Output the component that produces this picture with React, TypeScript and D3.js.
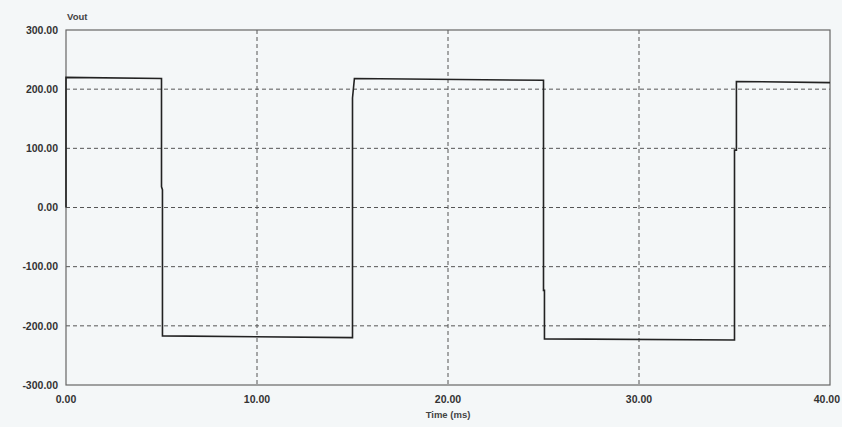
import React from 'react';
import * as d3 from 'd3';

// waveform samples (time in ms, Vout in V)
const timeMs = [0, 0, 5.0, 5.0, 5.05, 5.05, 15.0, 15.0, 15.1, 25.0, 25.0, 25.05, 25.05, 35.0, 35.0, 35.1, 35.1, 40];
const vout = [0, 220, 218, 35, 30, -217, -220, 185, 218, 215, -140, -140, -222, -224, 97, 97, 213, 211];

const yTicks = [300, 200, 100, 0, -100, -200, -300];
const xTicks = [0, 10, 20, 30, 40];
const yGrid = [200, 100, 0, -100, -200];
const xGrid = [10, 20, 30];

const W = 842;
const H = 427;
const margin = { top: 30, right: 12, bottom: 42, left: 66 };

const App = () => {
  const x = d3.scaleLinear().domain([0, 40]).range([margin.left, W - margin.right]);
  const y = d3.scaleLinear().domain([-300, 300]).range([H - margin.bottom, margin.top]);

  const pts = timeMs.map((t, i) => [t, vout[i]] as [number, number]);
  const line = d3.line<[number, number]>()
    .x(d => x(d[0]))
    .y(d => y(d[1]));

  const fontFamily = 'Arial, "Liberation Sans", sans-serif';

  return (
    <svg width={W} height={H} style={{ position: 'absolute', left: 0, top: 0, display: 'block' }}>
      <rect x={0} y={0} width={W} height={H} fill="#f4f7f8" />

      {/* grid */}
      {yGrid.map(v => (
        <line key={'gy' + v} x1={x(0)} x2={x(40)} y1={y(v)} y2={y(v)}
          stroke="#555" strokeWidth={1} strokeDasharray="4,3" />
      ))}
      {xGrid.map(v => (
        <line key={'gx' + v} x1={x(v)} x2={x(v)} y1={y(300)} y2={y(-300)}
          stroke="#555" strokeWidth={1} strokeDasharray="4,3" />
      ))}

      {/* frame */}
      <rect x={x(0)} y={y(300)} width={x(40) - x(0)} height={y(-300) - y(300)}
        fill="none" stroke="#666" strokeWidth={1.2} />

      {/* trace */}
      <path d={line(pts) || ''} fill="none" stroke="#222" strokeWidth={1.6} />

      {/* y tick labels */}
      {yTicks.map(v => (
        <text key={'ty' + v} x={x(0) - 8} y={y(v)} dy="0.35em" textAnchor="end"
          fontFamily={fontFamily} fontSize={10.5} fontWeight="bold" fill="#333">
          {v.toFixed(2)}
        </text>
      ))}

      {/* x tick labels */}
      {xTicks.map(v => (
        <text key={'tx' + v} x={x(v)} y={y(-300) + 18} textAnchor={v === 40 ? 'end' : 'middle'}
          dx={v === 40 ? 10 : 0}
          fontFamily={fontFamily} fontSize={10.5} fontWeight="bold" fill="#333">
          {v.toFixed(2)}
        </text>
      ))}

      <text x={x(0) + 1} y={20} fontFamily={fontFamily} fontSize={9.5} fontWeight="bold" fill="#444">
        Vout
      </text>
      <text x={x(20)} y={y(-300) + 33} textAnchor="middle"
        fontFamily={fontFamily} fontSize={9.5} fontWeight="bold" fill="#444">
        Time (ms)
      </text>
    </svg>
  );
};

export default App;
